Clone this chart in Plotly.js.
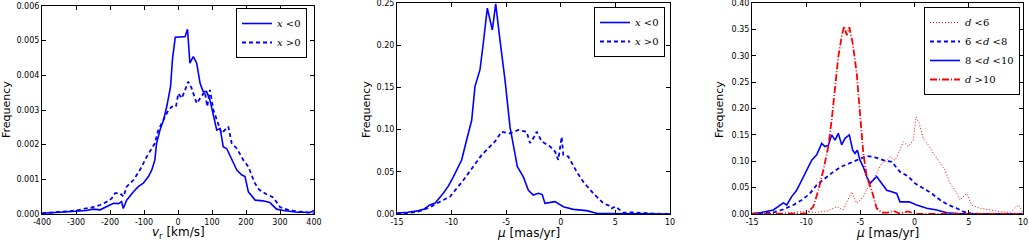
<!DOCTYPE html>
<html>
<head>
<meta charset="utf-8">
<script src="https://cdn.plot.ly/plotly-3.0.1.min.js"></script>
<style>html,body{margin:0;padding:0;background:#fff;}#chart{width:1029px;height:240px;}</style>
</head>
<body>
<div id="chart"></div>
<script>
// ---- Panel 1: v_r distribution ----
const vrNegX = [-400,-350,-300,-270,-250,-229,-210,-190,-175,-166,-161,-151,-131,-117,-102,-87,-77,-68,-63,-53,-43,-33,-22,-16,-8,-2,10,21,28,35,45,55,65,74,84,94,104,114,124,133,143,158,173,187,197,207,227,250,270,290,310,350,390,400];
const vrNegY = [0.00002,0.00004,0.00008,0.0001,0.00014,0.00012,0.00021,0.00031,0.00030,0.00036,0.00016,0.0004,0.00064,0.00079,0.00089,0.00108,0.00127,0.00156,0.00204,0.00242,0.0027,0.0031,0.00367,0.00449,0.0051,0.00511,0.00511,0.00512,0.00533,0.00435,0.00454,0.00435,0.00377,0.00353,0.00353,0.00329,0.0028,0.00242,0.00247,0.00194,0.00189,0.00156,0.00127,0.00113,0.00108,0.00064,0.0004,0.00038,0.00033,0.00014,0.0001,0.00005,0.00005,0.0001];
const vrPosX = [-400,-350,-300,-250,-229,-210,-195,-185,-171,-160,-151,-131,-112,-92,-82,-68,-58,-48,-38,-28,-18,-6,1,11,21,30,40,55,65,79,86,94,104,114,128,148,158,173,192,207,226,239,260,280,290,300,330,370,400];
const vrPosY = [0.00002,0.00005,0.0001,0.0002,0.00026,0.00035,0.00045,0.0006,0.0006,0.0005,0.00079,0.00098,0.00127,0.00165,0.0018,0.00204,0.00242,0.0026,0.0028,0.003,0.0031,0.0031,0.00348,0.00334,0.00358,0.00382,0.00363,0.00319,0.00334,0.00353,0.0031,0.00358,0.003,0.00271,0.00233,0.00252,0.00204,0.00189,0.00156,0.00136,0.00089,0.0007,0.00057,0.00048,0.00033,0.0002,0.0001,0.00005,0.00002];

// ---- Panel 2: mu distribution by x ----
const muNegX = [-15,-14,-13,-12.5,-12,-11.5,-10.76,-10.3,-9.84,-9.08,-8.62,-8.16,-7.86,-7.4,-7.1,-6.73,-6.27,-5.96,-5.57,-5.11,-4.65,-4.35,-3.98,-3.43,-2.97,-2.52,-2.06,-1.7,-1.45,-0.53,0.23,1.15,2.37,3.29,4,5,6,8,10];
const muNegY = [0.001,0.002,0.004,0.006,0.0107,0.013,0.0245,0.033,0.044,0.064,0.088,0.111,0.151,0.171,0.202,0.244,0.218,0.249,0.206,0.159,0.103,0.080,0.056,0.044,0.028,0.0225,0.0245,0.023,0.0126,0.0146,0.0087,0.0055,0.004,0.0008,0.0005,0.0003,0.0002,0.0001,0];
const muPosX = [-15,-14,-13,-12,-11.06,-10.15,-8.93,-8.16,-7.24,-6.48,-6.03,-5.42,-4.65,-3.89,-3.13,-2.82,-2.5,-2.21,-1.75,-0.99,-0.53,-0.23,0.08,0.23,0.69,1.46,2.07,2.98,3.9,4.4,4.66,5.0,5.73,6.5,7.5,8.5,10];
const muPosY = [0.0005,0.001,0.003,0.008,0.0146,0.0205,0.040,0.054,0.070,0.080,0.086,0.0975,0.0955,0.0995,0.0975,0.084,0.09,0.0975,0.086,0.080,0.074,0.064,0.0916,0.070,0.068,0.050,0.038,0.0245,0.0126,0.01,0.0067,0.009,0.0015,0.002,0.001,0.0005,0];

// ---- Panel 3: mu distribution by distance d ----
const dLt6X = [-15,-12,-10.57,-9,-8,-7.19,-6.6,-5.8,-5.34,-4.73,-4.11,-3.65,-3.03,-2.57,-2.27,-1.81,-1.35,-1.04,-0.58,-0.12,0.13,0.43,0.8,1.26,1.73,2.35,2.8,3.27,3.73,4.19,4.8,5.27,6.03,6.96,7.88,8.8,9.6,10];
const dLt6Y = [0,0.001,0.0044,0.003,0.006,0.014,0.008,0.042,0.020,0.033,0.058,0.071,0.096,0.102,0.109,0.102,0.121,0.137,0.128,0.140,0.184,0.172,0.1435,0.131,0.115,0.096,0.083,0.058,0.045,0.0265,0.039,0.017,0.011,0.0076,0.0044,0.003,0.017,0.002];
const d6to8X = [-15,-13,-12.11,-11.19,-10.41,-9.65,-9.03,-8.27,-7.5,-6.73,-5.96,-5.04,-4.42,-3.65,-2.89,-2.11,-1.35,-0.58,0.04,0.8,1.58,2.35,3.11,3.88,4.5,5.2,6,10];
const d6to8Y = [0,0.003,0.0089,0.017,0.0265,0.039,0.055,0.068,0.080,0.090,0.097,0.1055,0.110,0.1075,0.102,0.099,0.080,0.071,0.058,0.0487,0.039,0.0265,0.017,0.011,0.0044,0.001,0,0];
const d8to10X = [-15,-14.26,-13.03,-12.11,-11.8,-11.34,-10.88,-10.41,-9.95,-9.49,-9.03,-8.57,-8.27,-7.96,-7.65,-7.34,-7.04,-6.73,-6.42,-6.02,-5.71,-5.5,-5.28,-5.04,-4.73,-4.42,-4.11,-3.81,-3.5,-3.03,-2.57,-2.11,-1.65,-1.35,-0.5,0.19,1.12,2.04,2.96,4,6,10];
const d8to10Y = [0.001,0.0025,0.0076,0.021,0.017,0.033,0.045,0.064,0.083,0.102,0.112,0.134,0.128,0.13,0.150,0.140,0.153,0.131,0.1435,0.150,0.121,0.115,0.121,0.102,0.089,0.071,0.058,0.064,0.071,0.058,0.045,0.042,0.039,0.023,0.023,0.017,0.011,0.0076,0.0025,0.001,0.0005,0];
const dGt10X = [-15,-10.5,-9.95,-9.34,-8.88,-8.42,-7.96,-7.65,-7.34,-7.04,-6.73,-6.51,-6.26,-6.02,-5.71,-5.34,-5.04,-4.73,-4.42,-3.96,-3.5,-3.03,-2.5,-1.96,-1.4,-0.58,0,10];
const dGt10Y = [0,0,0.001,0.014,0.045,0.083,0.128,0.178,0.241,0.298,0.336,0.356,0.339,0.354,0.324,0.267,0.191,0.115,0.071,0.045,0.011,0.0025,0.0025,0.006,0.001,0.005,0,0];

// ---- tick labels ----
const vrTicks = [-400,-300,-200,-100,0,100,200,300,400];
const vrTickText = ['-400','-300','-200','-100','0','100','200','300','400'];
const muTicks = [-15,-10,-5,0,5,10];
const muTickText = ['-15','-10','-5','0','5','10'];
const f1Ticks = [0,0.001,0.002,0.003,0.004,0.005,0.006];
const f1TickText = ['0.000','0.001','0.002','0.003','0.004','0.005','0.006'];
const f2Ticks = [0,0.05,0.10,0.15,0.20,0.25];
const f2TickText = ['0.00','0.05','0.10','0.15','0.20','0.25'];
const f3Ticks = [0,0.05,0.10,0.15,0.20,0.25,0.30,0.35,0.40];
const f3TickText = ['0.00','0.05','0.10','0.15','0.20','0.25','0.30','0.35','0.40'];

const W = 1029, H = 240;
const BLUE = '#0000ff', RED = '#ff0000';
const px = v => v / W;
const py = v => 1 - v / H;

const traces = [
  {x: vrNegX, y: vrNegY, xaxis:'x', yaxis:'y', name:'<i>x</i> &lt;0', legend:'legend', mode:'lines', line:{color:BLUE, width:1.6}},
  {x: vrPosX, y: vrPosY, xaxis:'x', yaxis:'y', name:'<i>x</i> &gt;0', legend:'legend', mode:'lines', line:{color:BLUE, width:1.8, dash:'4px,3px'}},
  {x: muNegX, y: muNegY, xaxis:'x2', yaxis:'y2', name:'<i>x</i> &lt;0', legend:'legend2', mode:'lines', line:{color:BLUE, width:1.6}},
  {x: muPosX, y: muPosY, xaxis:'x2', yaxis:'y2', name:'<i>x</i> &gt;0', legend:'legend2', mode:'lines', line:{color:BLUE, width:1.8, dash:'4px,3px'}},
  {x: dLt6X, y: dLt6Y, xaxis:'x3', yaxis:'y3', name:'<i>d</i> &lt;6', legend:'legend3', mode:'lines', line:{color:RED, width:1, dash:'1px,2px'}},
  {x: d6to8X, y: d6to8Y, xaxis:'x3', yaxis:'y3', name:'6 &lt;<i>d</i> &lt;8', legend:'legend3', mode:'lines', line:{color:BLUE, width:1.8, dash:'4px,3px'}},
  {x: d8to10X, y: d8to10Y, xaxis:'x3', yaxis:'y3', name:'8 &lt;<i>d</i> &lt;10', legend:'legend3', mode:'lines', line:{color:BLUE, width:1.6}},
  {x: dGt10X, y: dGt10Y, xaxis:'x3', yaxis:'y3', name:'<i>d</i> &gt;10', legend:'legend3', mode:'lines', line:{color:RED, width:1.8, dash:'7px,2px,1px,2px'}}
];

const tickFont = {family:'DejaVu Sans', size:8, color:'#000'};
function xa(domain, range, tv, tt){
  return {domain: domain, range: range, tickvals: tv, ticktext: tt, ticks:'inside', ticklen:4, tickcolor:'#000',
    showline:true, linecolor:'#000', linewidth:1, mirror:'ticks', showgrid:false, zeroline:false, tickfont:tickFont,
    ticklabeloverflow:'allow', fixedrange:true};
}
const legendBase = {bgcolor:'#fff', bordercolor:'#000', borderwidth:1, font:{family:'DejaVu Serif', size:10, color:'#000'},
  xanchor:'right', yanchor:'top', itemwidth:30, tracegroupgap:0};

const layout = {
  width: W, height: H,
  margin: {l:0, r:0, t:0, b:0},
  paper_bgcolor:'#fff', plot_bgcolor:'#fff',
  showlegend: true,
  xaxis: xa([px(42), px(314)], [-400,400], vrTicks, vrTickText),
  yaxis: Object.assign(xa([py(214), py(6)], [0,0.006], f1Ticks, f1TickText), {anchor:'x'}),
  xaxis2: Object.assign(xa([px(397), px(670)], [-15,10], muTicks, muTickText), {anchor:'y2'}),
  yaxis2: Object.assign(xa([py(214), py(3)], [0,0.25], f2Ticks, f2TickText), {anchor:'x2'}),
  xaxis3: Object.assign(xa([px(752), px(1023)], [-15,10], muTicks, muTickText), {anchor:'y3'}),
  yaxis3: Object.assign(xa([py(214), py(3)], [0,0.40], f3Ticks, f3TickText), {anchor:'x3'}),
  legend: Object.assign({}, legendBase, {x: px(307), y: py(8)}),
  legend2: Object.assign({}, legendBase, {x: px(665), y: py(7)}),
  legend3: Object.assign({}, legendBase, {x: px(1020), y: py(7)}),
  annotations: [
    {text:'<i>v</i><sub>r</sub> [km/s]', x:px(178), y:py(233), xref:'paper', yref:'paper', showarrow:false, xanchor:'center', yanchor:'middle', font:{family:'DejaVu Sans', size:12, color:'#000'}},
    {text:'<i>μ</i> [mas/yr]', x:px(528), y:py(233), xref:'paper', yref:'paper', showarrow:false, xanchor:'center', yanchor:'middle', font:{family:'DejaVu Sans', size:12, color:'#000'}},
    {text:'<i>μ</i> [mas/yr]', x:px(887), y:py(233), xref:'paper', yref:'paper', showarrow:false, xanchor:'center', yanchor:'middle', font:{family:'DejaVu Sans', size:12, color:'#000'}},
    {text:'Frequency', x:px(7), y:py(110), xref:'paper', yref:'paper', showarrow:false, textangle:-90, xanchor:'center', yanchor:'middle', font:{family:'DejaVu Sans', size:11, color:'#000'}},
    {text:'Frequency', x:px(367), y:py(110), xref:'paper', yref:'paper', showarrow:false, textangle:-90, xanchor:'center', yanchor:'middle', font:{family:'DejaVu Sans', size:11, color:'#000'}},
    {text:'Frequency', x:px(720), y:py(110), xref:'paper', yref:'paper', showarrow:false, textangle:-90, xanchor:'center', yanchor:'middle', font:{family:'DejaVu Sans', size:11, color:'#000'}}
  ]
};

Plotly.newPlot('chart', traces, layout, {displayModeBar:false, staticPlot:true});
</script>
</body>
</html>
